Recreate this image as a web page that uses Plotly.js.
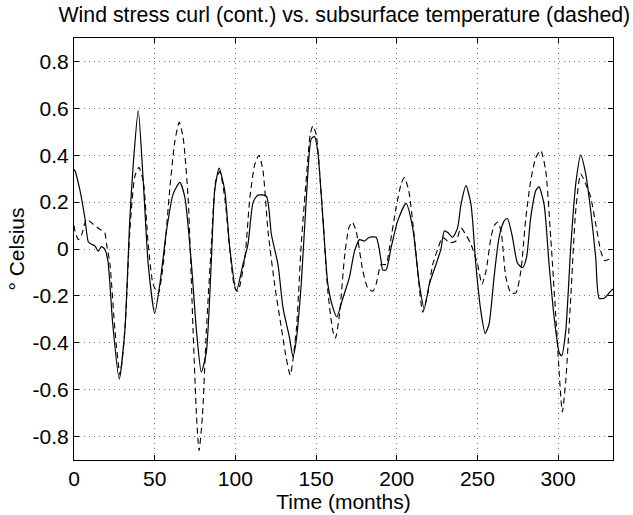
<!DOCTYPE html>
<html>
<head>
<meta charset="utf-8">
<script src="https://cdn.plot.ly/plotly-3.0.1.min.js"></script>
<style>html,body{margin:0;padding:0;background:#fff;}#chart{width:633px;height:515px;}</style>
</head>
<body>
<div id="chart"></div>
<script>
// Wind stress curl (solid)
const curlMonths = [0,0.6,3.7,6.8,8.9,11,13,15,17,19,21,24,28,31.5,34.6,36.7,39.8,42.9,46,50,53.2,57.3,61.4,65.6,68.7,72.8,75.9,78.9,82,85,87.2,89.9,93.4,96.5,100.6,104.7,107.8,111,114,119.2,122.3,126.4,129.5,133.6,135.7,137.7,140.8,144,147,149,151,154.2,157.3,160.4,162.9,166.6,170.7,173.8,176.9,180,183,187.2,190.3,191.3,193.4,196.5,200.6,205.8,209.9,214,217,220.2,224.3,227.4,229.5,231.6,234.6,237.7,239.8,242.9,246,249,252.1,254.8,257.2,260.3,263.4,266.6,268.6,271.7,274.8,277.9,280.4,283,286.2,288.2,291.3,294.4,297.5,300.6,302.2,304.7,307.8,310.9,314,317.1,320.2,323.3,325.4,328.5,331.6,334];
const curlValues = [0.34,0.334,0.25,0.13,0.03,0.02,0.013,-0.01,0.01,0,-0.05,-0.32,-0.555,-0.35,0.13,0.36,0.59,0.29,-0.066,-0.275,-0.15,0.077,0.234,0.284,0.22,-0.066,-0.35,-0.525,-0.44,-0.066,0.25,0.345,0.25,0.006,-0.18,-0.066,0.02,0.2,0.23,0.225,0.063,-0.066,-0.25,-0.38,-0.46,-0.39,-0.15,0.22,0.47,0.48,0.42,0.134,-0.15,-0.25,-0.29,-0.21,-0.12,-0.01,0.04,0.034,0.05,0.05,-0.05,-0.09,-0.09,0.006,0.12,0.195,0.09,-0.15,-0.255,-0.15,-0.066,0.0,0.077,0.07,0.05,0.09,0.19,0.27,0.19,-0.066,-0.265,-0.36,-0.32,-0.12,0.05,0.12,0.13,0.05,-0.06,-0.08,-0.037,0.134,0.25,0.265,0.19,-0.066,-0.29,-0.44,-0.455,-0.35,0.006,0.277,0.4,0.32,0.163,-0.037,-0.21,-0.21,-0.187,-0.17];

// Subsurface temperature (dashed)
const tempMonths = [0,0.6,2.7,4.7,7.8,12,16,19,20.2,22.3,25.4,28.5,31.5,34.6,37.7,40.2,42.9,46,49,52.2,55.3,59.4,62.5,65.2,67.6,70.7,73.8,75.9,77.5,79.6,82,85,87.8,90.3,93.4,96.5,99.6,101.6,105.8,109,112,114.6,117.1,120.2,124.3,128.5,131.5,134,137.7,140.8,144,146.4,148,150,154.2,157.3,160.4,162,164.5,167.6,170.3,172.4,174.8,179,182,185.2,187.2,190.3,193.4,195.5,199.6,202.7,204.7,207.4,210.9,214,216.1,219.2,222.3,225.4,228.5,232.6,236.7,239.8,242.9,246,250.1,252.8,255.3,258.4,260.4,262.5,264.6,267.6,270.7,273.8,276.9,280,283,286.2,289.2,292.3,295.4,298.5,301,302.6,304.7,307.8,310.9,314,317.1,320.2,323.3,326.4,328.8,331.6,334];
const tempValues = [0.1,0.077,0.04,0.06,0.127,0.105,0.084,0.07,0.02,-0.066,-0.35,-0.537,-0.35,0.077,0.31,0.348,0.29,0.02,-0.15,-0.19,-0.066,0.26,0.46,0.54,0.477,0.22,-0.35,-0.71,-0.86,-0.71,-0.35,0.006,0.29,0.33,0.22,0,-0.166,-0.18,-0.04,0.22,0.36,0.4,0.334,0.077,-0.15,-0.337,-0.465,-0.537,-0.35,0.02,0.305,0.49,0.525,0.49,0.134,-0.18,-0.35,-0.38,-0.28,-0.037,0.09,0.115,0.077,-0.094,-0.166,-0.18,-0.15,-0.066,-0.066,0.006,0.177,0.277,0.305,0.25,0.05,-0.166,-0.27,-0.19,-0.066,0.0,0.05,0.027,0.034,0.09,0.06,0.02,-0.066,-0.15,-0.094,0.05,0.1,0.115,0.077,-0.12,-0.187,-0.187,-0.094,0.134,0.29,0.39,0.42,0.334,0.05,-0.28,-0.565,-0.695,-0.565,-0.21,0.163,0.32,0.277,0.22,0.106,-0.009,-0.05,-0.044,-0.05];

const xTicks = [0,50,100,150,200,250,300];
const yTicks = [-0.8,-0.6,-0.4,-0.2,0,0.2,0.4,0.6,0.8];
const yTickLabels = ['-0.8','-0.6','-0.4','-0.2','0','0.2','0.4','0.6','0.8'];

const font = 'Liberation Sans, Arial, Helvetica, sans-serif';

const traces = [
  {x: curlMonths, y: curlValues, mode: 'lines', type: 'scatter',
   line: {color: '#000', width: 1.2, shape: 'spline', smoothing: 0.6}, hoverinfo: 'skip'},
  {x: tempMonths, y: tempValues, mode: 'lines', type: 'scatter',
   line: {color: '#000', width: 1.1, dash: '6px,4px', shape: 'spline', smoothing: 0.6}, hoverinfo: 'skip'}
];

const axisCommon = {
  showline: true, linecolor: '#000', linewidth: 1, mirror: 'ticks',
  ticks: 'inside', ticklen: 5, tickcolor: '#000',
  showgrid: true, gridcolor: '#777', griddash: '1px,4px', gridwidth: 1,
  zeroline: false,
  tickfont: {family: font, size: 21, color: '#000'}
};

const layout = {
  width: 633, height: 515,
  margin: {l: 74, r: 20, t: 38, b: 55},
  paper_bgcolor: '#fff', plot_bgcolor: '#fff',
  showlegend: false,
  title: {text: 'Wind stress curl (cont.) vs. subsurface temperature (dashed)',
          font: {family: font, size: 21.3, color: '#000'},
          x: 0.544, xanchor: 'center', y: 0.971, yanchor: 'middle'},
  xaxis: Object.assign({}, axisCommon, {
    range: [0, 334], tickvals: xTicks, ticktext: xTicks.map(String),
    title: {text: 'Time (months)', font: {family: font, size: 21, color: '#000'}, standoff: 4}
  }),
  yaxis: Object.assign({}, axisCommon, {
    range: [-0.9, 0.9], tickvals: yTicks, ticktext: yTickLabels,
    title: {text: '° Celsius', font: {family: font, size: 21, color: '#000'}, standoff: 2}
  })
};

Plotly.newPlot('chart', traces, layout, {displayModeBar: false, staticPlot: true});
</script>
</body>
</html>
